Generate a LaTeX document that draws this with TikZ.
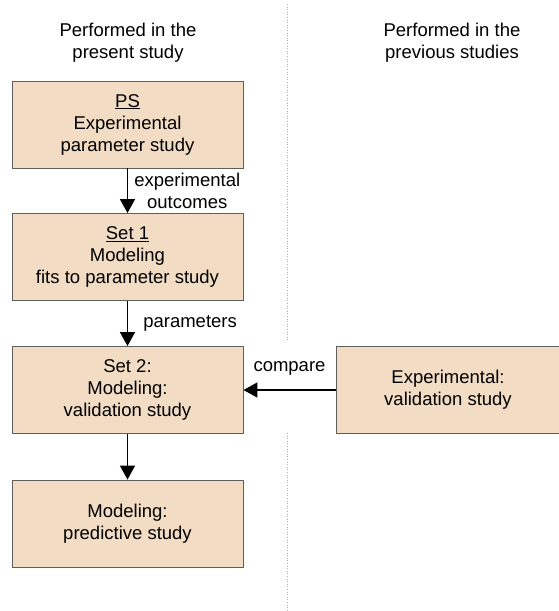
\documentclass[tikz,border=0pt]{standalone}
\usepackage{fontspec}
\setmainfont{Liberation Sans}
\usepackage{tikz}
\usetikzlibrary{arrows.meta,positioning}
\definecolor{boxfill}{RGB}{242,220,195}
\definecolor{boxline}{RGB}{95,95,95}

\begin{document}
\begin{tikzpicture}[x = 1pt, y = -1pt,
						font = \fontsize{18.5}{22}\selectfont,
						studybox/.style = {rectangle, draw = boxline, fill = boxfill, line width = 0.9pt, minimum width = 231pt, minimum height = 87pt, align = center, inner sep = 2pt},
						pathstyle/.style = {-{Triangle[width = 15pt, length = 14pt]}, line width = 1.6pt},
						pathlabel/.style = {align = center, inner sep = 1pt},
						heading/.style = {align = center}]
		\useasboundingbox (0,0) rectangle (558,611);
		% Headings
		\node (headnow) at (128,43) [heading] {Performed in the \\ present study};
		\node (headold) at (452,43) [heading] {Performed in the \\ previous studies};
		% Present study column
		\node (ps) at (127.5,124.5) [studybox] {\underline{PS} \\ Experimental \\ parameter study};
		\node (set1) at (127.5,257) [studybox] {\underline{Set 1} \\ Modeling \\ fits to parameter study};
		\node (set2) at (127.5,390) [studybox] {Set 2: \\ Modeling: \\ validation study};
		\node (pred) at (127.5,523.5) [studybox] {Modeling: \\ predictive study};
		% Previous studies column
		\node (expval) at (448,390) [studybox, minimum width = 224pt] {Experimental: \\ validation study};
		% Divider
		\draw [boxline!50, dotted, line width = 0.6pt] (287,4) -- (287,341) (287,433) -- (287,611);
		% Paths
		\draw [pathstyle] (ps) -- node [right = 5pt, pathlabel] {experimental \\ outcomes} (set1);
		\draw [pathstyle] (set1) -- node [right = 14pt, pathlabel] {parameters} (set2);
		\draw [pathstyle] (set2) -- (pred);
		\draw [pathstyle] (expval) -- node [above = 13pt, pathlabel] {compare} (set2);
	\end{tikzpicture}
\end{document}
